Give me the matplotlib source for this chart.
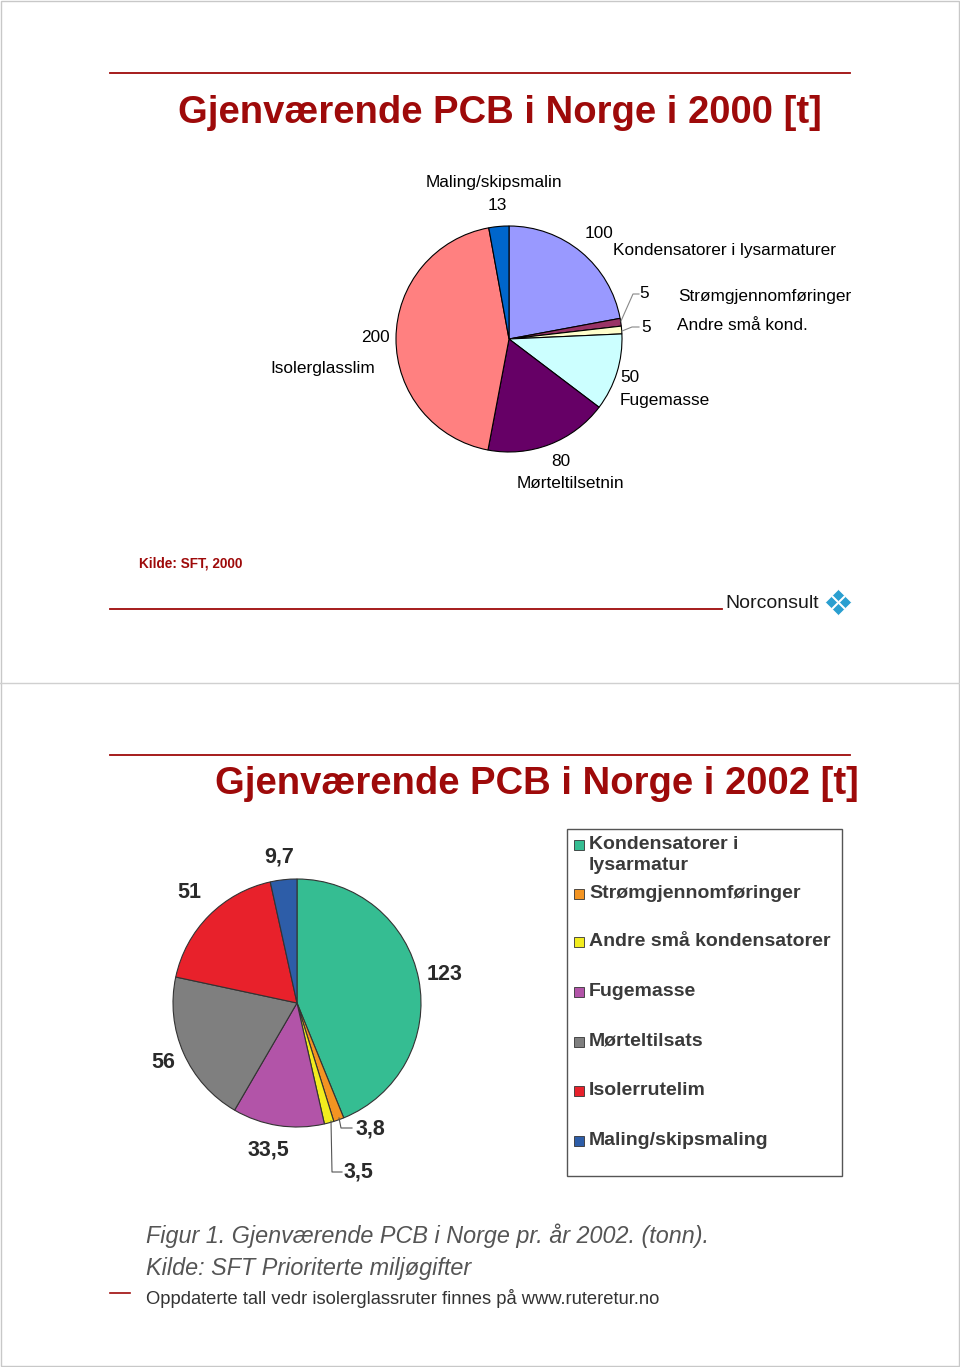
import matplotlib.pyplot as plt
from matplotlib.patches import Rectangle

plt.rcParams['font.family'] = ['Liberation Sans', 'DejaVu Sans']

W, H = 960, 1367

# 2000 data (tonn)
labels_2000 = ['Kondensatorer i lysarmaturer', 'Strømgjennomføringer', 'Andre små kond.',
               'Fugemasse', 'Mørteltilsetnin', 'Isolerglasslim', 'Maling/skipsmalin']
values_2000 = [100, 5, 5, 50, 80, 200, 13]
colors_2000 = ['#9999FF', '#993366', '#FFFFCC', '#CCFFFF', '#660066', '#FF8080', '#0066CC']

# 2002 data (tonn)
labels_2002 = ['Kondensatorer i\nlysarmatur', 'Strømgjennomføringer', 'Andre små kondensatorer',
               'Fugemasse', 'Mørteltilsats', 'Isolerrutelim', 'Maling/skipsmaling']
values_2002 = [123, 3.8, 3.5, 33.5, 56, 51, 9.7]
value_text_2002 = ['123', '3,8', '3,5', '33,5', '56', '51', '9,7']
colors_2002 = ['#35BD92', '#F39422', '#F2EC1E', '#B254A8', '#7F7F7F', '#E8212B', '#2D5DA8']

RED = '#9E0A0A'


def Y(py):
    return H - py


fig = plt.figure(figsize=(W / 100, H / 100), dpi=100)
ax = fig.add_axes([0, 0, 1, 1])

# page frames
ax.add_patch(Rectangle((1, 1), W - 2, H - 2, fill=False, edgecolor='#c8c8c8', lw=1))
ax.plot([0, W], [Y(683), Y(683)], color='#d0d0d0', lw=1)

# ---------- slide 1 ----------
ax.plot([110, 850], [Y(73), Y(73)], color=RED, lw=1.3)
ax.text(500, Y(113), 'Gjenværende PCB i Norge i 2000 [t]', color=RED, fontsize=27.5,
        fontweight='bold', ha='center', va='center')

ax.pie(values_2000, colors=colors_2000, startangle=90, counterclock=False,
       center=(509, Y(339)), radius=113, frame=True,
       wedgeprops=dict(edgecolor='black', linewidth=0.8))

lab_fs = 12.4
# (value pos), (name pos), name alignment
lab_pos_2000 = [((599, 233), (613, 250), 'left'),
                ((644, 293), (678, 296), 'left'),
                ((646, 327), (677, 326), 'left'),
                ((630, 377), (620, 400), 'left'),
                ((561, 461), (570, 484), 'center'),
                ((375, 338), (323, 368), 'center'),
                ((497, 206), (494, 183), 'center')]
for name, val, (vp, npos, ha) in zip(labels_2000, values_2000, lab_pos_2000):
    ax.text(vp[0], Y(vp[1]), str(val), fontsize=lab_fs, ha='center', va='center')
    ax.text(npos[0], Y(npos[1]), name, fontsize=lab_fs, ha=ha, va='center')

# leader lines for the small slices
ax.plot([621, 633, 639], [Y(321), Y(294), Y(294)], color='#888888', lw=0.8)
ax.plot([622, 632, 639], [Y(331), Y(327), Y(327)], color='#888888', lw=0.8)

ax.text(139, Y(564), 'Kilde: SFT, 2000', color=RED, fontsize=9.8, fontweight='bold',
        ha='left', va='center')
ax.plot([110, 722], [Y(609), Y(609)], color=RED, lw=1.3)
ax.text(725, Y(603), 'Norconsult', color='#1a1a1a', fontsize=14, ha='left', va='center')
ax.scatter([838, 831, 845, 838], [Y(595), Y(602), Y(602), Y(609)], marker='D', s=38,
           color='#2A9FD0', edgecolor='white', linewidth=0.5, zorder=5)

# ---------- slide 2 ----------
ax.plot([110, 850], [Y(755), Y(755)], color=RED, lw=1.3)
ax.text(537, Y(784), 'Gjenværende PCB i Norge i 2002 [t]', color=RED, fontsize=27.5,
        fontweight='bold', ha='center', va='center')

ax.pie(values_2002, colors=colors_2002, startangle=90, counterclock=False,
       center=(297, Y(1003)), radius=124, frame=True,
       wedgeprops=dict(edgecolor='#333333', linewidth=0.8))

val_pos_2002 = [(445, 975), (370, 1129), (358, 1172), (268, 1150),
                (163, 1063), (189, 893), (279, 857)]
for txt, (px, py) in zip(value_text_2002, val_pos_2002):
    ax.text(px, Y(py), txt, fontsize=15.5, fontweight='bold', color='#2a2a2a',
            ha='center', va='center')
ax.plot([339, 341, 352], [Y(1118), Y(1128), Y(1128)], color='#555555', lw=0.8)
ax.plot([331, 332, 342], [Y(1121), Y(1172), Y(1172)], color='#555555', lw=0.8)

# legend box
ax.add_patch(Rectangle((567, Y(1176)), 842 - 567, 1176 - 829, fill=False,
                       edgecolor='#555555', lw=1))
leg_y = [845, 894, 942, 992, 1042, 1091, 1141]
for name, col, ly in zip(labels_2002, colors_2002, leg_y):
    ax.add_patch(Rectangle((574, Y(ly) - 5), 10, 10, facecolor=col,
                           edgecolor='#333333', lw=0.6))
    ax.text(589, Y(ly - 9), name, fontsize=14, fontweight='bold', color='#3a3a3a',
            ha='left', va='top', linespacing=1.3)

ax.text(146, Y(1236), 'Figur 1. Gjenværende PCB i Norge pr. år 2002. (tonn).',
        fontsize=16.8, style='italic', color='#555555', ha='left', va='center')
ax.text(146, Y(1268), 'Kilde: SFT Prioriterte miljøgifter',
        fontsize=16.8, style='italic', color='#555555', ha='left', va='center')
ax.text(146, Y(1298), 'Oppdaterte tall vedr isolerglassruter finnes på www.ruteretur.no',
        fontsize=13.2, color='#333333', ha='left', va='center')
ax.plot([110, 130], [Y(1293), Y(1293)], color=RED, lw=1.2)

ax.set_xlim(0, W)
ax.set_ylim(0, H)
ax.axis('off')

fig.savefig('out.png', dpi=100)
